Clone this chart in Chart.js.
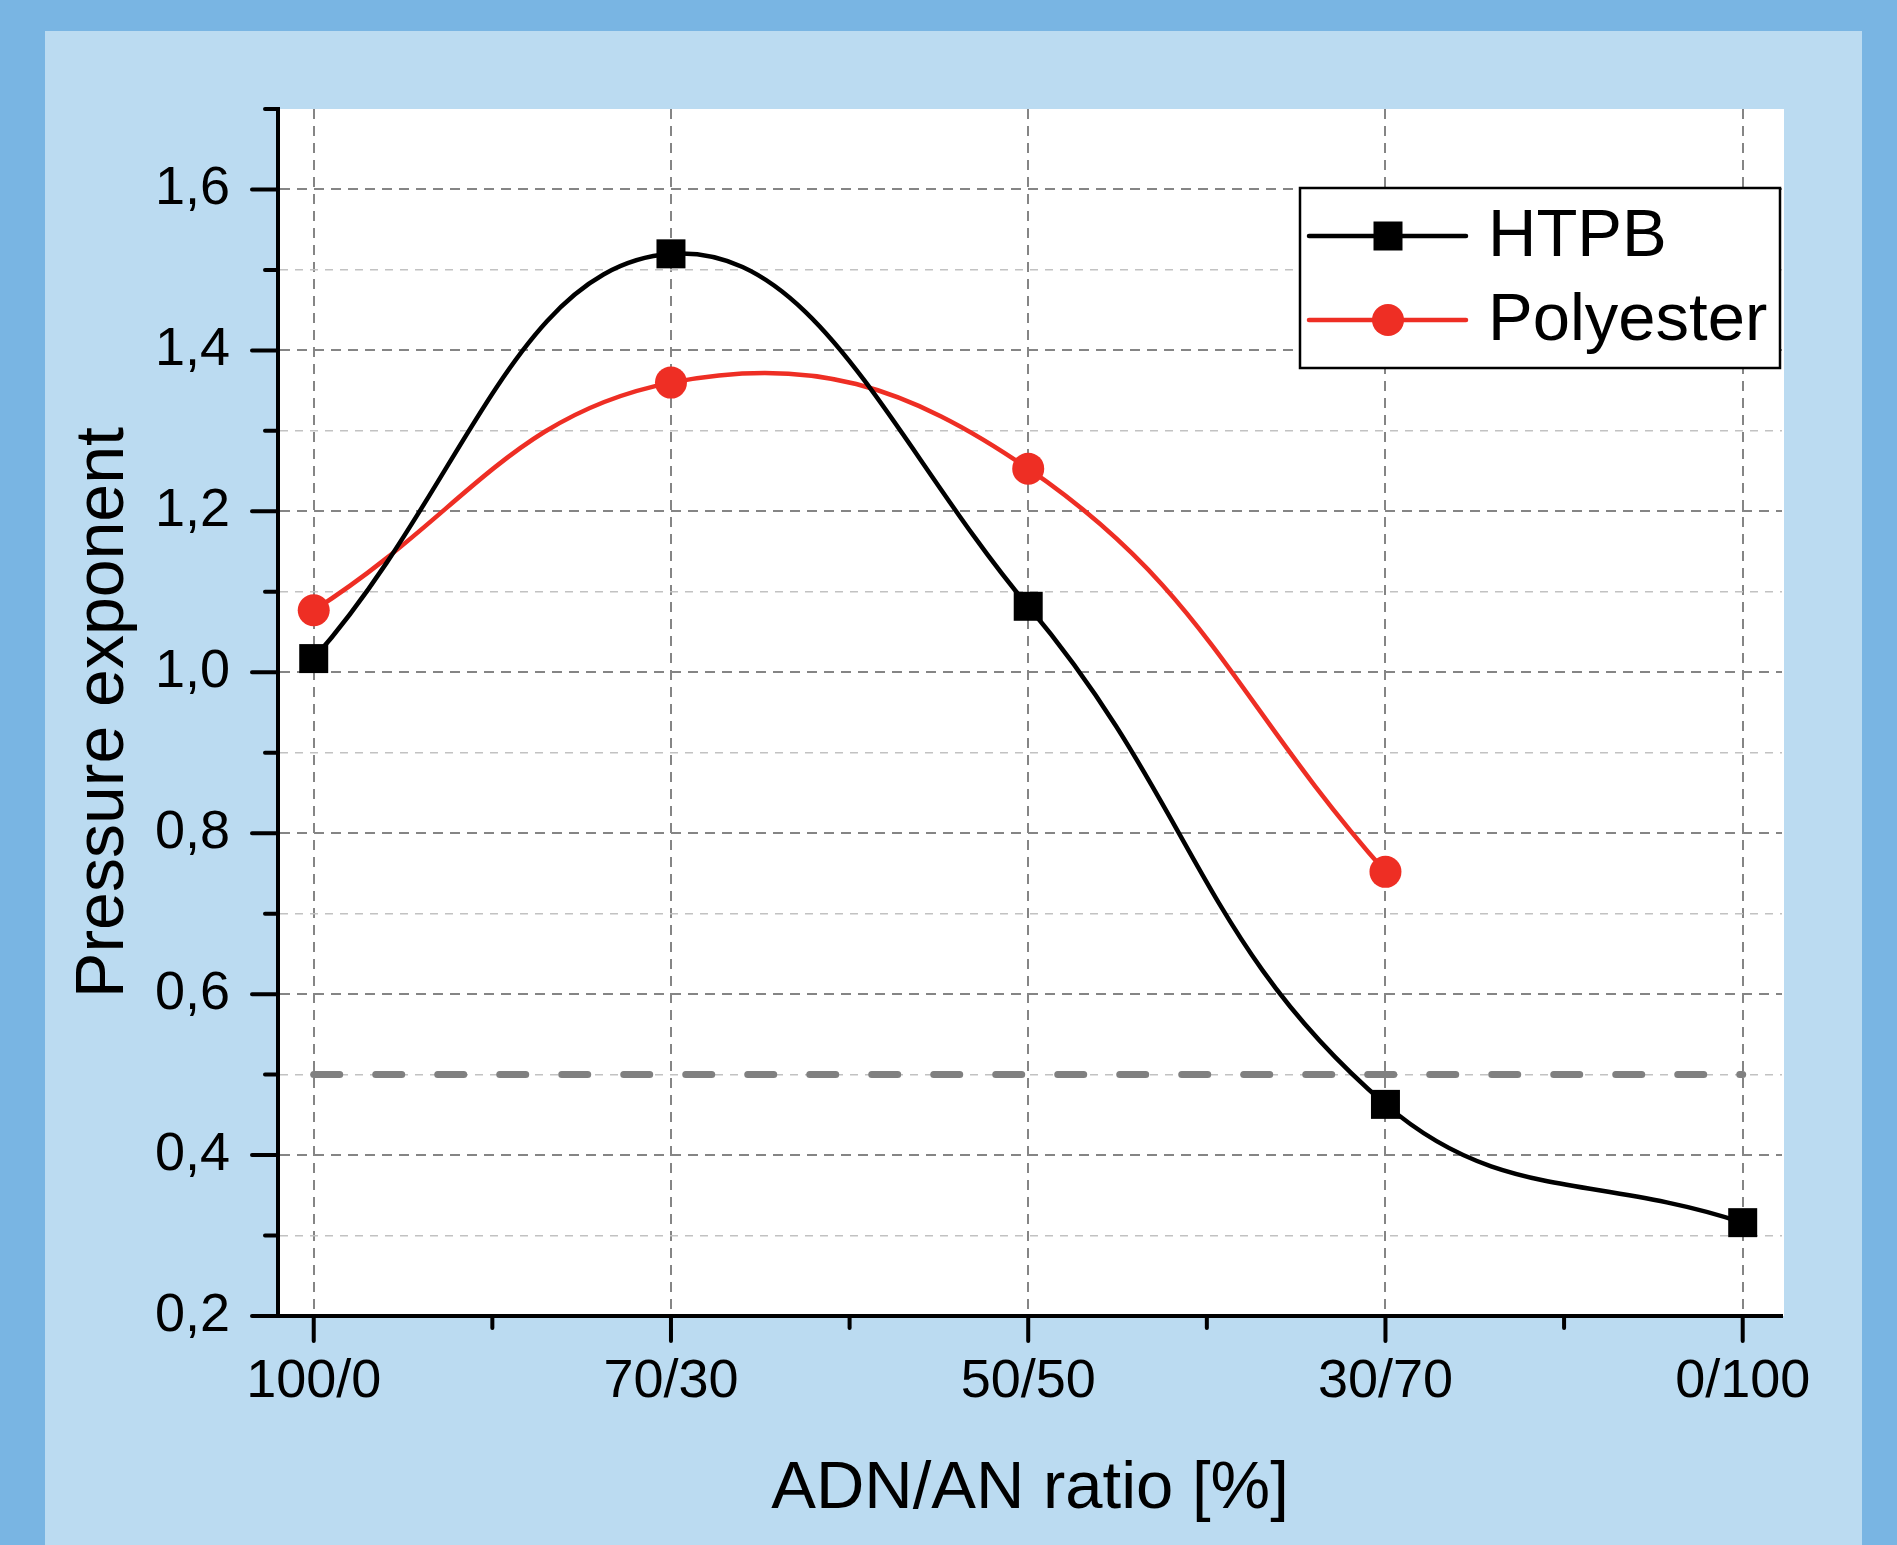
<!DOCTYPE html>
<html><head><meta charset="utf-8">
<script src="https://cdn.jsdelivr.net/npm/chart.js@4/dist/chart.umd.min.js"></script>
<style>html,body{margin:0;padding:0;background:#79B5E3;overflow:hidden}#wrap{position:absolute;left:0;top:0;width:1897px;height:1545px}</style>
</head><body><div id="wrap"><canvas id="c" width="1897" height="1545"></canvas></div>
<script>
const categories = ['100/0', '70/30', '50/50', '30/70', '0/100'];
const seriesNames = ['HTPB', 'Polyester'];
const htpbValues = [1.017, 1.52, 1.082, 0.463, 0.316];
const polyesterValues = [1.077, 1.36, 1.253, 0.752, null];
const referenceValues = [0.5, 0.5, 0.5, 0.5, 0.5];
const yMajorTicks = [0.2, 0.4, 0.6, 0.8, 1.0, 1.2, 1.4, 1.6];
const yMinorTicks = [0.3, 0.5, 0.7, 0.9, 1.1, 1.3, 1.5, 1.7];
const xMinorTicks = [0.5, 1.5, 2.5, 3.5];

const FONT = "'Liberation Sans', Arial, Helvetica, sans-serif";
const RED = '#EE2E24';
const toPts = arr => arr.map((v, i) => v === null ? null : {x: i, y: v}).filter(p => p);
const isMajor = v => yMajorTicks.some(m => Math.abs(m - v) < 1e-6);

Chart.defaults.color = '#000';
Chart.defaults.font.family = FONT;

const bgPlugin = {
  id: 'bg',
  beforeDraw(chart) {
    const c = chart.ctx, a = chart.chartArea;
    c.save();
    c.fillStyle = '#79B5E3'; c.fillRect(0, 0, chart.width, chart.height);
    c.fillStyle = '#BBDBF1'; c.fillRect(45, 31, 1817, chart.height - 31);
    c.fillStyle = '#FFFFFF'; c.fillRect(a.left, a.top, a.right - a.left + 2, a.bottom - a.top);
    c.restore();
  }
};

const tickPlugin = {
  id: 'ticks',
  afterDraw(chart) {
    const c = chart.ctx, a = chart.chartArea;
    const xs = chart.scales.x, ys = chart.scales.y;
    c.save();
    c.strokeStyle = '#000'; c.lineWidth = 4; c.lineCap = 'round';
    c.beginPath();
    yMajorTicks.forEach(v => { const y = ys.getPixelForValue(v); c.moveTo(a.left - 26, y); c.lineTo(a.left, y); });
    yMinorTicks.forEach(v => { const y = ys.getPixelForValue(v); c.moveTo(a.left - 13, y); c.lineTo(a.left, y); });
    categories.forEach((_, i) => { const x = xs.getPixelForValue(i); c.moveTo(x, a.bottom); c.lineTo(x, a.bottom + 25); });
    xMinorTicks.forEach(v => { const x = xs.getPixelForValue(v); c.moveTo(x, a.bottom); c.lineTo(x, a.bottom + 12); });
    c.stroke();
    c.restore();
  }
};

const legendPlugin = {
  id: 'customLegend',
  afterDraw(chart) {
    const c = chart.ctx, a = chart.chartArea;
    const right = a.right - 2, left = right - 480, top = a.top + 79, h = 180;
    c.save();
    c.fillStyle = '#fff'; c.fillRect(left, top, 480, h);
    c.strokeStyle = '#000'; c.lineWidth = 2.5; c.strokeRect(left, top, 480, h);
    seriesNames.forEach((name, i) => {
      const ds = chart.data.datasets[i];
      const y = top + 48 + i * 84;
      c.strokeStyle = ds.borderColor; c.lineWidth = ds.borderWidth; c.lineCap = 'round';
      c.beginPath(); c.moveTo(left + 9, y); c.lineTo(left + 166, y); c.stroke();
      const mx = left + 88;
      c.fillStyle = ds.pointBackgroundColor;
      if (ds.pointStyle === 'rect') {
        const s = ds.pointRadius * Math.SQRT1_2;
        c.fillRect(mx - s, y - s, 2 * s, 2 * s);
      } else {
        c.beginPath(); c.arc(mx, y, ds.pointRadius, 0, Math.PI * 2); c.fill();
      }
      c.fillStyle = '#000'; c.font = '67px ' + FONT; c.textBaseline = 'middle'; c.textAlign = 'left';
      c.fillText(name, left + 188, y + 2);
    });
    c.restore();
  }
};

new Chart(document.getElementById('c'), {
  type: 'line',
  data: {
    datasets: [
      {
        label: seriesNames[0], data: toPts(htpbValues),
        borderColor: '#000', borderWidth: 4.5, tension: 0.42,
        pointStyle: 'rect', pointRadius: 20.5, pointBackgroundColor: '#000', pointBorderWidth: 0,
        pointHoverRadius: 20.5
      },
      {
        label: seriesNames[1], data: toPts(polyesterValues),
        borderColor: RED, borderWidth: 4.5, tension: 0.42,
        pointStyle: 'circle', pointRadius: 16, pointBackgroundColor: RED, pointBorderWidth: 0,
        pointHoverRadius: 16
      },
      {
        label: 'reference', data: toPts(referenceValues),
        borderColor: '#808080', borderWidth: 7, borderDash: [26, 36], borderCapStyle: 'round',
        pointRadius: 0, tension: 0
      }
    ]
  },
  options: {
    responsive: false, animation: false, devicePixelRatio: 1,
    layout: {padding: {top: 109, right: 115, bottom: 0, left: 0}},
    plugins: {legend: {display: false}, tooltip: {enabled: false}},
    scales: {
      x: {
        type: 'linear', position: 'bottom', min: -0.1, max: 4.11,
        afterBuildTicks: s => { s.ticks = categories.map((_, i) => ({value: i})); },
        afterFit: s => { s.height = 229; },
        ticks: {callback: v => categories[v] ?? '', font: {size: 54, family: FONT}, padding: 34, maxRotation: 0, autoSkip: false, color: '#000'},
        grid: {drawTicks: false, color: '#858585', lineWidth: 2},
        border: {display: true, color: '#000', width: 4, dash: [10, 7]},
        title: {display: true, text: 'ADN/AN ratio [%]', font: {size: 67, family: FONT}, padding: {top: 0, bottom: 15}, color: '#000'}
      },
      y: {
        type: 'linear', position: 'left', min: 0.2, max: 1.7,
        afterBuildTicks: s => { s.ticks = yMajorTicks.concat(yMinorTicks).sort((p, q) => p - q).map(v => ({value: v})); },
        afterFit: s => { s.width = 278; },
        ticks: {callback: v => isMajor(v) ? v.toFixed(1).replace('.', ',') : '', font: {size: 54, family: FONT}, padding: 48, autoSkip: false, color: '#000'},
        grid: {
          drawTicks: false,
          color: ctx => (ctx.tick && isMajor(ctx.tick.value)) ? '#858585' : '#C2C2C2',
          lineWidth: ctx => {
            if (!ctx.tick) return 2;
            const v = ctx.tick.value;
            if (Math.abs(v - 1.7) < 1e-6 || Math.abs(v - 0.2) < 1e-6) return 0;
            return isMajor(v) ? 2 : 1.6;
          }
        },
        border: {display: true, color: '#000', width: 4, dash: ctx => (ctx.tick && isMajor(ctx.tick.value)) ? [10, 7] : [8, 7]},
        title: {display: true, text: 'Pressure exponent', font: {size: 68, family: FONT}, padding: {top: 63, bottom: 0}, color: '#000'}
      }
    }
  },
  plugins: [bgPlugin, tickPlugin, legendPlugin]
});
</script>
</body></html>
